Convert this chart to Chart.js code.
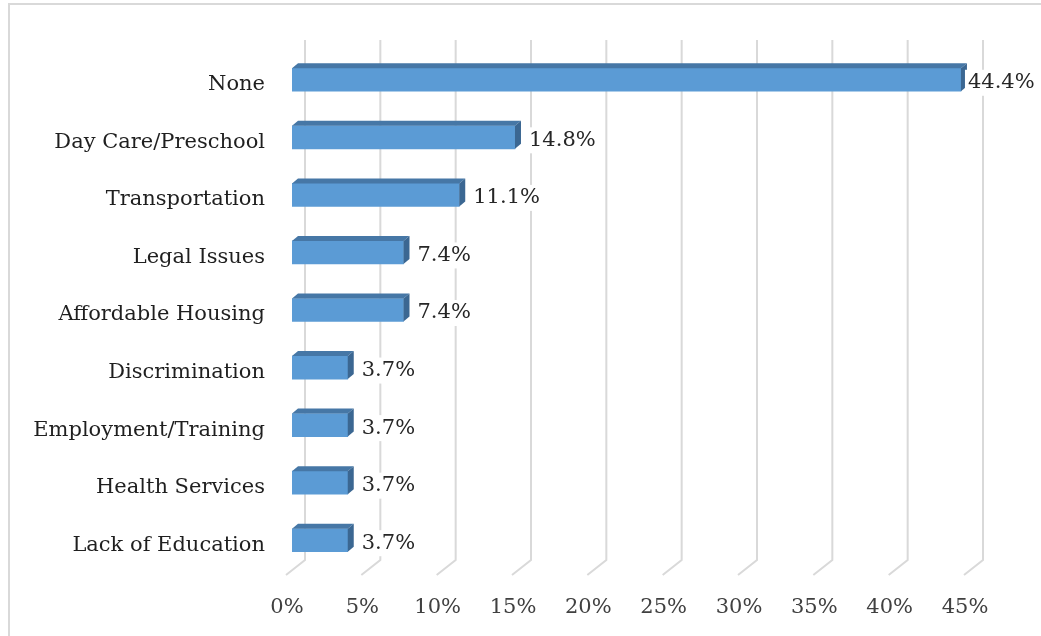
<!DOCTYPE html>
<html>
<head>
<meta charset="utf-8">
<script src="https://cdn.jsdelivr.net/npm/chart.js@4/dist/chart.umd.min.js"></script>
<style>
  html, body { margin: 0; padding: 0; background: #fff; }
  #wrap { width: 1041px; height: 636px; position: relative; }
</style>
</head>
<body>
<div id="wrap"><canvas id="chart" width="1041" height="636"></canvas></div>
<script>
const categories = [
  'None', 'Day Care/Preschool', 'Transportation', 'Legal Issues', 'Affordable Housing',
  'Discrimination', 'Employment/Training', 'Health Services', 'Lack of Education'
];
const shares = [44.4, 14.8, 11.1, 7.4, 7.4, 3.7, 3.7, 3.7, 3.7];
const tickValues = [0, 5, 10, 15, 20, 25, 30, 35, 40, 45];

const SERIF = '"DejaVu Serif", serif';
const DEPTH_X = 6, DEPTH_Y = 5;

// frame around the whole picture
const framePlugin = {
  id: 'frame',
  beforeDraw(chart) {
    const ctx = chart.ctx;
    ctx.save();
    ctx.strokeStyle = '#d9d9d9';
    ctx.lineWidth = 2;
    ctx.strokeRect(9, 4, 1100, 700);
    ctx.restore();
  }
};

// back-wall gridlines with the floor diagonal
const wallGrid = {
  id: 'wallGrid',
  beforeDatasetsDraw(chart) {
    const ctx = chart.ctx;
    const x = chart.scales.x;
    ctx.save();
    ctx.strokeStyle = '#d9d9d9';
    ctx.lineWidth = 2;
    tickValues.forEach(v => {
      const px = x.getPixelForValue(v);
      ctx.beginPath();
      ctx.moveTo(px + 13, 40);
      ctx.lineTo(px + 13, 560);
      ctx.lineTo(px - 6, 575);
      ctx.stroke();
    });
    ctx.restore();
  }
};

// top and side faces, then value labels
const bars3d = {
  id: 'bars3d',
  afterDatasetsDraw(chart) {
    const ctx = chart.ctx;
    const meta = chart.getDatasetMeta(0);
    ctx.save();
    meta.data.forEach((bar, i) => {
      const { x, y, base, height } = bar.getProps(['x', 'y', 'base', 'height'], true);
      const top = y - height / 2;
      const bottom = y + height / 2;

      ctx.fillStyle = '#4677a6';
      ctx.beginPath();
      ctx.moveTo(base, top);
      ctx.lineTo(base + DEPTH_X, top - DEPTH_Y);
      ctx.lineTo(x + DEPTH_X, top - DEPTH_Y);
      ctx.lineTo(x, top);
      ctx.closePath();
      ctx.fill();

      ctx.fillStyle = '#3b6792';
      ctx.beginPath();
      ctx.moveTo(x, top);
      ctx.lineTo(x + DEPTH_X, top - DEPTH_Y);
      ctx.lineTo(x + DEPTH_X, bottom - DEPTH_Y);
      ctx.lineTo(x, bottom);
      ctx.closePath();
      ctx.fill();

      const label = shares[i].toFixed(1) + '%';
      ctx.font = '21px ' + SERIF;
      const w = ctx.measureText(label).width;
      const lx = i === 0 ? x + 7 : x + DEPTH_X + 8;
      const ly = y + 3;
      ctx.fillStyle = '#fff';
      ctx.fillRect(lx - 3, ly - 13, w + 6, 26);
      ctx.fillStyle = '#262626';
      ctx.textBaseline = 'middle';
      ctx.textAlign = 'left';
      ctx.fillText(label, lx, ly);
    });
    ctx.restore();
  }
};

new Chart(document.getElementById('chart'), {
  type: 'bar',
  data: {
    labels: categories,
    datasets: [{
      data: shares,
      backgroundColor: '#5b9bd5',
      borderWidth: 0,
      barThickness: 23
    }]
  },
  options: {
    indexAxis: 'y',
    responsive: false,
    animation: false,
    layout: { padding: { top: 51, right: 71, bottom: 0, left: 0 } },
    plugins: { legend: { display: false }, tooltip: { enabled: false } },
    scales: {
      x: {
        min: 0,
        max: 45,
        afterBuildTicks(scale) { scale.ticks = tickValues.map(v => ({ value: v })); },
        afterFit(scale) { scale.height = 67; },
        grid: { display: false, drawTicks: false },
        border: { display: false },
        ticks: {
          padding: 26,
          labelOffset: -5,
          color: '#404040',
          font: { family: SERIF, size: 21 },
          callback: v => v + '%'
        }
      },
      y: {
        afterFit(scale) { scale.width = 292; },
        grid: { display: false, drawTicks: false },
        border: { display: false },
        ticks: {
          padding: 27,
          labelOffset: 5,
          color: '#1f1f1f',
          font: { family: SERIF, size: 21 }
        }
      }
    }
  },
  plugins: [framePlugin, wallGrid, bars3d]
});
</script>
</body>
</html>
